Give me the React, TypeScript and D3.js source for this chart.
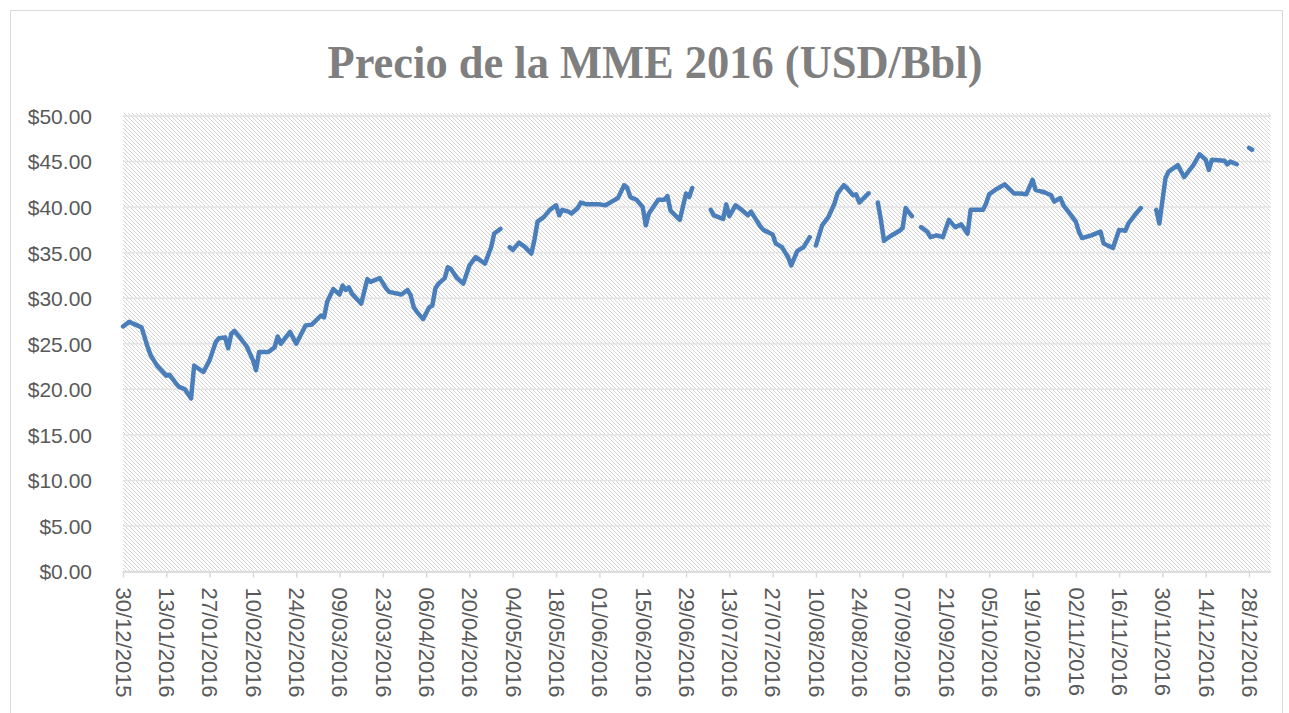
import { useEffect, useRef } from 'react';
import * as d3 from 'd3';

// Precio diario (null = día sin dato, corta la línea)
const fechas: string[] = [
  '30/12/2015', '01/01/2016', '03/01/2016', '05/01/2016', '07/01/2016', '08/01/2016', '10/01/2016', '13/01/2016',
  '14/01/2016', '16/01/2016', '17/01/2016', '19/01/2016', '21/01/2016', '22/01/2016', '25/01/2016', '27/01/2016',
  '29/01/2016', '30/01/2016', '01/02/2016', '02/02/2016', '03/02/2016', '04/02/2016', '06/02/2016', '08/02/2016',
  '10/02/2016', '11/02/2016', '12/02/2016', '15/02/2016', '17/02/2016', '18/02/2016', '19/02/2016', '22/02/2016',
  '24/02/2016', '27/02/2016', '29/02/2016', '03/03/2016', '04/03/2016', '05/03/2016', '07/03/2016', '09/03/2016',
  '10/03/2016', '11/03/2016', '12/03/2016', '13/03/2016', '16/03/2016', '18/03/2016', '19/03/2016', '22/03/2016',
  '24/03/2016', '25/03/2016', '29/03/2016', '31/03/2016', '01/04/2016', '02/04/2016', '03/04/2016', '05/04/2016',
  '07/04/2016', '08/04/2016', '09/04/2016', '10/04/2016', '12/04/2016', '13/04/2016', '14/04/2016', '16/04/2016',
  '18/04/2016', '20/04/2016', '22/04/2016', '25/04/2016', '27/04/2016', '28/04/2016', '30/04/2016', '01/05/2016',
  '03/05/2016', '04/05/2016', '06/05/2016', '08/05/2016', '10/05/2016', '11/05/2016', '12/05/2016', '14/05/2016',
  '16/05/2016', '18/05/2016', '19/05/2016', '20/05/2016', '22/05/2016', '23/05/2016', '25/05/2016', '26/05/2016',
  '28/05/2016', '01/06/2016', '03/06/2016', '05/06/2016', '07/06/2016', '08/06/2016', '09/06/2016', '10/06/2016',
  '11/06/2016', '13/06/2016', '15/06/2016', '16/06/2016', '17/06/2016', '20/06/2016', '22/06/2016', '23/06/2016',
  '24/06/2016', '27/06/2016', '29/06/2016', '30/06/2016', '01/07/2016', '03/07/2016',
  '07/07/2016', '08/07/2016', '11/07/2016', '12/07/2016', '13/07/2016', '15/07/2016', '17/07/2016', '19/07/2016',
  '20/07/2016', '23/07/2016', '24/07/2016', '27/07/2016', '28/07/2016', '30/07/2016', '01/08/2016', '02/08/2016',
  '04/08/2016', '06/08/2016', '08/08/2016', '09/08/2016',
  '10/08/2016', '12/08/2016', '14/08/2016', '16/08/2016', '17/08/2016', '19/08/2016', '20/08/2016', '22/08/2016',
  '23/08/2016', '24/08/2016', '27/08/2016', '28/08/2016',
  '30/08/2016', '31/08/2016', '01/09/2016', '03/09/2016', '06/09/2016', '07/09/2016', '08/09/2016', '10/09/2016',
  '11/09/2016',
  '13/09/2016', '15/09/2016', '16/09/2016', '18/09/2016', '20/09/2016', '22/09/2016', '24/09/2016', '26/09/2016',
  '28/09/2016', '29/09/2016', '03/10/2016', '04/10/2016', '05/10/2016', '07/10/2016', '10/10/2016', '13/10/2016',
  '15/10/2016', '17/10/2016', '19/10/2016', '20/10/2016', '23/10/2016', '25/10/2016', '26/10/2016', '28/10/2016',
  '29/10/2016', '31/10/2016', '02/11/2016', '03/11/2016', '04/11/2016', '07/11/2016', '10/11/2016', '11/11/2016',
  '14/11/2016', '16/11/2016', '18/11/2016', '19/11/2016', '21/11/2016', '23/11/2016', '25/11/2016',
  '28/11/2016', '29/11/2016', '01/12/2016', '02/12/2016', '05/12/2016', '07/12/2016', '10/12/2016', '12/12/2016',
  '14/12/2016', '15/12/2016', '16/12/2016', '20/12/2016', '21/12/2016', '22/12/2016', '24/12/2016', '26/12/2016',
  '28/12/2016', '29/12/2016',
];

const precios: (number | null)[] = [
  26.9, 27.4, 27.1, 26.8, 24.6, 23.7, 22.6, 21.5,
  21.6, 20.7, 20.3, 20.0, 19.0, 22.6, 21.9, 23.2,
  25.2, 25.6, 25.7, 24.5, 26.1, 26.4, 25.6, 24.7,
  23.2, 22.1, 24.1, 24.1, 24.6, 25.8, 25.0, 26.3,
  25.0, 27.0, 27.1, 28.1, 27.9, 29.6, 31.0, 30.4,
  31.4, 30.9, 31.2, 30.5, 29.4, 32.1, 31.8, 32.2,
  31.1, 30.7, 30.4, 30.9, 30.3, 29.0, 28.5, 27.7,
  29.0, 29.2, 31.1, 31.6, 32.2, 33.4, 33.2, 32.2,
  31.6, 33.6, 34.5, 33.8, 35.6, 37.1, 37.6, null,
  35.6, 35.3, 36.1, 35.6, 34.9, 36.4, 38.4, 38.9,
  39.7, 40.2, 39.1, 39.7, 39.5, 39.3, 39.9, 40.5,
  40.3, 40.3, 40.2, 40.6, 41.0, 41.7, 42.4, 42.1,
  41.1, 40.8, 40.0, 38.0, 39.3, 40.8, 40.8, 41.2,
  39.6, 38.6, 41.5, 41.1, 42.1, null,
  39.7, 39.1, 38.7, 40.3, 39.0, 40.2, 39.7, 39.1,
  39.5, 37.9, 37.5, 37.0, 36.0, 35.6, 34.5, 33.6,
  35.2, 35.6, 36.7, null,
  35.8, 38.0, 38.9, 40.4, 41.5, 42.4, 42.1, 41.3,
  41.4, 40.5, 41.5, null,
  40.5, 38.6, 36.3, 36.8, 37.4, 37.7, 39.9, 39.0,
  null,
  37.8, 37.3, 36.7, 36.9, 36.7, 38.6, 37.8, 38.1,
  37.1, 39.7, 39.7, 40.4, 41.4, 41.9, 42.5, 41.5,
  41.5, 41.4, 43.0, 41.9, 41.6, 41.3, 40.6, 41.0,
  40.2, 39.3, 38.4, 37.3, 36.6, 36.9, 37.3, 36.0,
  35.5, 37.5, 37.4, 38.2, 39.1, 39.9, null,
  39.7, 38.2, 43.2, 43.9, 44.6, 43.3, 44.6, 45.8,
  45.2, 44.1, 45.2, 45.1, 44.7, 45.0, 44.7, null,
  46.5, 46.3,
];

const xTickLabels = [
  '30/12/2015', '13/01/2016', '27/01/2016', '10/02/2016', '24/02/2016', '09/03/2016', '23/03/2016',
  '06/04/2016', '20/04/2016', '04/05/2016', '18/05/2016', '01/06/2016', '15/06/2016', '29/06/2016',
  '13/07/2016', '27/07/2016', '10/08/2016', '24/08/2016', '07/09/2016', '21/09/2016', '05/10/2016',
  '19/10/2016', '02/11/2016', '16/11/2016', '30/11/2016', '14/12/2016', '28/12/2016',
];
const xDomainEnd = '04/01/2017';
const yTicks = [0, 5, 10, 15, 20, 25, 30, 35, 40, 45, 50];

const titulo = 'Precio de la MME 2016 (USD/Bbl)';

function App() {
  const ref = useRef<SVGSVGElement>(null);

  useEffect(() => {
    const svg = d3.select(ref.current);
    svg.selectAll('*').remove();

    const W = 1289;
    const H = 713;
    const plot = { left: 123, right: 1270.7, top: 116, bottom: 571.5 };
    const parse = d3.utcParse('%d/%m/%Y');
    const fmt = d3.utcFormat('%d/%m/%Y');

    const data = fechas.map((f, i) => ({ date: parse(f) as Date, v: precios[i] }));

    const x = d3
      .scaleUtc()
      .domain([parse(xTickLabels[0]) as Date, parse(xDomainEnd) as Date])
      .range([plot.left, plot.right]);
    const y = d3.scaleLinear().domain([0, 50]).range([plot.bottom, plot.top]);

    svg.append('rect').attr('width', W).attr('height', H).attr('fill', '#fff');
    svg
      .append('rect')
      .attr('x', 10.5)
      .attr('y', 10.5)
      .attr('width', 1272)
      .attr('height', 712)
      .attr('fill', 'none')
      .attr('stroke', '#d9d9d9');

    // trama diagonal del área de trazado
    const pat = svg
      .append('defs')
      .append('pattern')
      .attr('id', 'trama')
      .attr('patternUnits', 'userSpaceOnUse')
      .attr('x', plot.left)
      .attr('y', 0)
      .attr('width', 4)
      .attr('height', 4);
    pat.append('rect').attr('width', 4).attr('height', 4).attr('fill', '#fff');
    [0, 1, 2, 3].forEach((k) => {
      pat
        .append('rect')
        .attr('x', k)
        .attr('y', k)
        .attr('width', 1)
        .attr('height', 1)
        .attr('fill', '#d3d3d3');
    });

    svg
      .append('rect')
      .attr('x', plot.left)
      .attr('y', plot.top - 3)
      .attr('width', plot.right - plot.left)
      .attr('height', plot.bottom - plot.top + 3)
      .attr('fill', 'url(#trama)');

    // líneas de división
    svg
      .append('g')
      .selectAll('line')
      .data(yTicks)
      .enter()
      .append('line')
      .attr('x1', plot.left)
      .attr('x2', plot.right)
      .attr('y1', (d) => y(d))
      .attr('y2', (d) => y(d))
      .attr('stroke', '#e3e3e3')
      .attr('stroke-width', 1.5);

    // eje Y
    const gy = svg
      .append('g')
      .attr('transform', `translate(${plot.left - 28},0)`)
      .call(
        d3
          .axisLeft(y)
          .tickValues(yTicks)
          .tickSize(0)
          .tickFormat((d) => '$' + (+d).toFixed(2))
      );
    gy.select('.domain').remove();
    gy.selectAll('text')
      .attr('fill', '#595959')
      .attr('font-family', '"Liberation Sans", Arial, sans-serif')
      .attr('font-size', 21)
      .attr('dy', '0.35em');

    // eje X
    const gx = svg
      .append('g')
      .attr('transform', `translate(0,${plot.bottom})`)
      .call(
        d3
          .axisBottom(x)
          .tickValues(xTickLabels.map((t) => parse(t) as Date))
          .tickSize(6)
          .tickSizeOuter(0)
          .tickFormat((d) => fmt(d as Date))
      );
    gx.select('.domain').attr('stroke', '#d9d9d9').attr('stroke-width', 1.5);
    gx.selectAll('.tick line').attr('stroke', '#d9d9d9').attr('stroke-width', 1.5);
    gx.selectAll('text')
      .attr('fill', '#595959')
      .attr('font-family', '"Liberation Sans", Arial, sans-serif')
      .attr('font-size', 22)
      .attr('transform', 'rotate(90)')
      .attr('text-anchor', 'start')
      .attr('x', 16)
      .attr('y', 0)
      .attr('dy', '0.35em');

    // serie
    const line = d3
      .line<{ date: Date; v: number | null }>()
      .defined((d) => d.v !== null)
      .x((d) => x(d.date))
      .y((d) => y(d.v as number));

    svg
      .append('path')
      .datum(data)
      .attr('d', line)
      .attr('fill', 'none')
      .attr('stroke', '#4a7ebb')
      .attr('stroke-width', 4.5)
      .attr('stroke-linejoin', 'round')
      .attr('stroke-linecap', 'round');

    // título
    svg
      .append('text')
      .attr('x', 655)
      .attr('y', 78)
      .attr('text-anchor', 'middle')
      .attr('font-family', '"Liberation Serif", "DejaVu Serif", serif')
      .attr('font-weight', 'bold')
      .attr('font-size', 46)
      .attr('fill', '#7f7f7f')
      .attr('textLength', 655)
      .attr('lengthAdjust', 'spacingAndGlyphs')
      .text(titulo);
  }, []);

  return (
    <svg
      ref={ref}
      width={1289}
      height={713}
      style={{ position: 'absolute', left: 0, top: 0, display: 'block' }}
    ></svg>
  );
}

export default App;
